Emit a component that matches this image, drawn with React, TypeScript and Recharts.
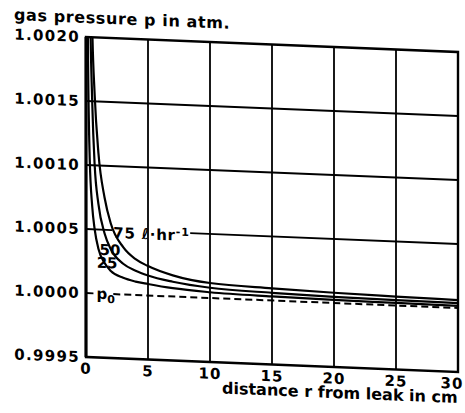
import {
  LineChart,
  Line,
  XAxis,
  YAxis,
  CartesianGrid,
  ReferenceLine,
  ReferenceArea,
  ReferenceDot,
} from 'recharts'

// distance from leak (cm) and gas pressure (atm) for the three leak rates
const distances = [0.1, 0.15, 0.3, 0.5, 0.7, 1, 1.5, 2, 3, 4, 5, 7, 10, 15, 20, 25, 30]
const flow75 = [
  1.0105, 1.007, 1.0036, 1.0021, 1.00155, 1.0011, 1.00075, 1.00055, 1.00037, 1.00028,
  1.00023, 1.000165, 1.000117, 1.000095, 1.00008, 1.00007, 1.000062,
]
const flow50 = [
  1.0075, 1.005, 1.0025, 1.0015, 1.001, 1.0007, 1.00047, 1.00035, 1.00024, 1.00019,
  1.000156, 1.000115, 1.00008, 1.00006, 1.000048, 1.000042, 1.000038,
]
const flow25 = [
  1.003, 1.002, 1.00105, 1.00068, 1.0005, 1.00035, 1.00024, 1.00018, 1.00013, 1.000105,
  1.00009, 1.000065, 1.000045, 1.000032, 1.000025, 1.00002, 1.000017,
]

const xTicks = [0, 5, 10, 15, 20, 25, 30]
const yTicks = [0.9995, 1.0, 1.0005, 1.001, 1.0015, 1.002]
const gridX = [5, 10, 15, 20, 25]
const gridY = [1.001, 1.0015]
const P0 = 1.0

const data = distances.map((r, i) => ({
  r,
  q75: flow75[i],
  q50: flow50[i],
  q25: flow25[i],
}))

const FONT = '"DejaVu Sans", sans-serif'
const yTickStyle = { fontSize: 15, fill: '#000', fontFamily: FONT, fontWeight: 'bold', letterSpacing: 1.3 }

// last label sits against the right edge, nudge it in a bit
function XTick({ x, y, payload }: any) {
  const last = payload.value === 30
  return (
    <text
      x={x + (last ? -5 : 0)}
      y={y}
      dy="0.71em"
      textAnchor="middle"
      fontSize={15}
      fontWeight="bold"
      fontFamily={FONT}
      letterSpacing={1}
      fill="#000"
    >
      {payload.value}
    </text>
  )
}

export default function App() {
  return (
    <div
      style={{
        position: 'absolute',
        left: 0,
        top: 0,
        width: 465,
        height: 413,
        background: '#fff',
        fontFamily: FONT,
        color: '#000',
        transform: 'skewY(2.31deg)',
        transformOrigin: '86px 0px',
      }}
    >
      <div
        style={{
          position: 'absolute',
          left: 14,
          top: 10,
          fontSize: 16,
          fontWeight: 'bold',
          lineHeight: 1,
          letterSpacing: 0.6,
          whiteSpace: 'nowrap',
        }}
      >
        gas pressure p in atm.
      </div>
      <LineChart
        width={465}
        height={413}
        data={data}
        margin={{ top: 37, right: 7, left: 0, bottom: 26 }}
      >
        <CartesianGrid
          stroke="#000"
          strokeWidth={1.8}
          horizontalValues={gridY}
          verticalValues={gridX}
        />
        <XAxis
          dataKey="r"
          type="number"
          domain={[0, 30]}
          ticks={xTicks}
          allowDataOverflow
          axisLine={false}
          tickLine={false}
          tickSize={4}
          tickMargin={2}
          height={30}
          tick={<XTick />}
        />
        <YAxis
          type="number"
          domain={[0.9995, 1.002]}
          ticks={yTicks}
          allowDataOverflow
          axisLine={false}
          tickLine={false}
          tickSize={4}
          tickMargin={2}
          width={86}
          tick={yTickStyle}
          tickFormatter={(v: number) => v.toFixed(4)}
        />
        <ReferenceLine
          segment={[{ x: 0, y: 1.0005 }, { x: 2.1, y: 1.0005 }]}
          stroke="#000"
          strokeWidth={1.8}
        />
        <ReferenceLine
          segment={[{ x: 8.4, y: 1.0005 }, { x: 30, y: 1.0005 }]}
          stroke="#000"
          strokeWidth={1.8}
        />
        <ReferenceLine
          segment={[{ x: 0, y: P0 }, { x: 0.6, y: P0 }]}
          stroke="#000"
          strokeWidth={1.8}
        />
        <ReferenceLine
          segment={[{ x: 2.2, y: P0 }, { x: 30, y: P0 }]}
          stroke="#000"
          strokeWidth={2}
          strokeDasharray="7 4"
        />
        <Line dataKey="q75" type="monotone" stroke="#000" strokeWidth={2.2} dot={false} isAnimationActive={false} />
        <Line dataKey="q50" type="monotone" stroke="#000" strokeWidth={2.2} dot={false} isAnimationActive={false} />
        <Line dataKey="q25" type="monotone" stroke="#000" strokeWidth={2.2} dot={false} isAnimationActive={false} />
        <ReferenceArea
          x1={0}
          x2={30}
          y1={0.9995}
          y2={1.002}
          fill="none"
          stroke="#000"
          strokeWidth={2.4}
        />
        <ReferenceLine x={0} stroke="#000" strokeWidth={3} />
        <ReferenceDot
          x={2.2}
          y={1.00048}
          r={0}
          shape={(p: any) => (
            <text x={p.cx} y={p.cy} dy="0.35em" fontSize={15} fontWeight="bold" fontFamily={FONT} letterSpacing={0.8} fill="#000">
              <tspan>75 </tspan>
              <tspan fontStyle="italic">ℓ</tspan>
              <tspan>·hr</tspan>
              <tspan dy="-0.45em" fontSize={11}>-1</tspan>
            </text>
          )}
        />
        <ReferenceDot
          x={1.94}
          y={1.000344}
          r={0}
          shape={(p: any) => (
            <text x={p.cx} y={p.cy} dy="0.35em" textAnchor="middle" fontSize={15} fontWeight="bold" fontFamily={FONT} fill="#000">
              50
            </text>
          )}
        />
        <ReferenceDot
          x={1.7}
          y={1.000242}
          r={0}
          shape={(p: any) => (
            <text x={p.cx} y={p.cy} dy="0.35em" textAnchor="middle" fontSize={15} fontWeight="bold" fontFamily={FONT} fill="#000">
              25
            </text>
          )}
        />
        <ReferenceDot
          x={0.85}
          y={P0}
          r={0}
          shape={(p: any) => (
            <text x={p.cx} y={p.cy} dy="0.35em" fontSize={15} fontWeight="bold" fontFamily={FONT} fill="#000">
              <tspan>p</tspan>
              <tspan dy="0.35em" fontSize={11}>0</tspan>
            </text>
          )}
        />
      </LineChart>
      <div
        style={{
          position: 'absolute',
          left: 222,
          top: 375,
          fontSize: 16,
          fontWeight: 'bold',
          lineHeight: 1,
          letterSpacing: 0,
          whiteSpace: 'nowrap',
        }}
      >
        distance r from leak in cm
      </div>
    </div>
  )
}
